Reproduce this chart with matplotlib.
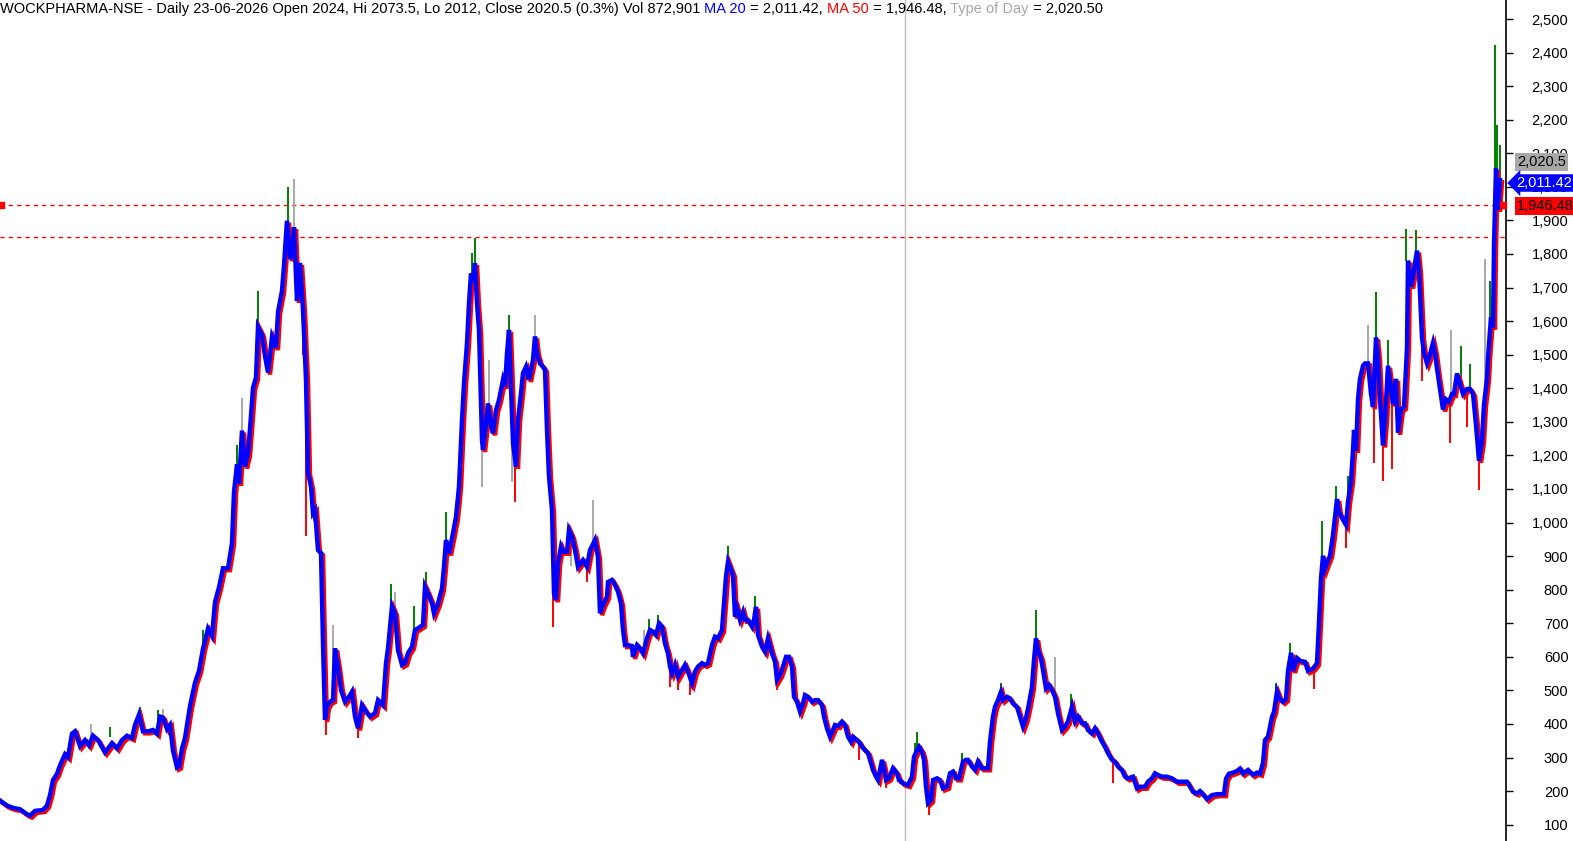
import numpy as np
import matplotlib
matplotlib.use("Agg")
import matplotlib.pyplot as plt
import matplotlib.transforms as mtransforms

plt.rcParams['font.family'] = ['Liberation Sans', 'DejaVu Sans']

# bar index (daily bars, left to right) and close
bar = [0, 7, 13, 20, 27, 30, 35, 43, 47, 50, 53, 57, 60, 65, 68, 72, 75, 80, 85, 89,
       93, 98, 105, 112, 117, 122, 127, 132, 135, 139, 143, 148, 153, 157, 160, 163, 167, 170, 173, 177,
       179, 182, 185, 190, 195, 199, 203, 208, 212, 215, 219, 223, 228, 232, 234, 237, 239, 242, 245, 248,
       251, 253, 256, 258, 262, 265, 268, 272, 276, 278, 282, 284, 287, 290, 292, 294, 297, 299,
       300, 303, 306, 308, 311, 313, 315, 318, 321, 323, 325, 327, 330, 333, 335, 338, 341, 345, 349, 352,
       355, 358, 362, 366, 370, 375, 378, 383, 386, 388, 392, 395, 398, 402, 405, 408, 412, 415, 418, 423,
       425, 428, 432, 434, 438, 442, 444, 446, 449, 453, 456, 459, 462, 464, 467, 469, 471, 473, 475, 477,
       479, 482, 483, 486, 488, 491, 493, 496, 499, 503, 505, 507, 509, 512, 513, 516, 518, 521, 523, 526,
       529, 533, 535, 537, 540, 543, 545, 547, 549, 552, 554, 556, 558, 561, 563, 567, 569, 572, 575, 578,
       583, 587, 590, 595, 598,
       600, 603, 607, 608, 612, 615, 618, 621, 623, 625, 628, 632, 633, 637, 640, 643, 647, 650, 653, 656,
       659, 662, 665, 668, 670, 672, 675, 678, 682, 685, 688, 692, 695, 698, 702, 705, 708, 712, 715, 718,
       722, 724, 726, 728, 731, 733, 735, 737, 740, 743, 745, 748, 752, 754, 756, 758, 762, 765, 768, 772,
       775, 777, 780, 783, 786, 789, 792, 794, 797, 800, 803, 805, 808, 812, 815, 818, 822, 824, 827, 830,
       833, 835, 838, 842, 845, 848, 851, 853, 857, 859, 862, 865, 868, 871, 873, 876, 878, 882, 884, 886,
       889, 893, 897, 899,
       900, 903, 908, 912, 914, 917, 919, 922, 924, 926, 928, 931, 933, 937, 940, 943, 947, 950, 953, 956,
       959, 963, 966, 968, 972, 975, 978, 982, 985, 988, 990, 993, 995, 998, 1001, 1003, 1007, 1010, 1013, 1017,
       1020, 1023, 1026, 1029, 1032, 1034, 1036, 1038, 1041, 1043, 1046, 1049, 1052, 1055, 1058, 1062, 1065, 1068, 1072, 1075,
       1078, 1082, 1085, 1088, 1092, 1095, 1098, 1102, 1105, 1108, 1112, 1115, 1118, 1122, 1125, 1128, 1133, 1137, 1140, 1145,
       1148, 1152, 1155, 1158, 1162, 1167, 1172, 1177, 1182, 1187, 1190, 1193, 1197,
       1200, 1203, 1207, 1212, 1217, 1222, 1224, 1226, 1229, 1233, 1237, 1240, 1243, 1248, 1253, 1257, 1260, 1263, 1265, 1268,
       1272, 1274, 1277, 1280, 1283, 1286, 1288, 1291, 1293, 1297, 1300, 1305, 1308, 1313, 1317, 1319, 1321, 1323, 1325, 1327,
       1330, 1333, 1335, 1337, 1339, 1343, 1346, 1348, 1351, 1353, 1354, 1356, 1358, 1360, 1363, 1365, 1368, 1371, 1373, 1376,
       1378, 1380, 1383, 1385, 1388, 1391, 1393, 1396, 1398, 1401, 1404, 1407, 1408, 1411, 1413, 1417, 1419, 1422, 1424, 1427,
       1429, 1433, 1435, 1437, 1440, 1443, 1446, 1449, 1452, 1454, 1457, 1460, 1463, 1467, 1470, 1473, 1476, 1479, 1482, 1484,
       1487, 1488, 1491, 1493, 1494, 1496, 1498, 1500]

close = [172, 157, 150, 146, 131, 127, 141, 144, 157, 188, 233, 251, 277, 310, 301, 371, 378, 334, 352, 336,
         365, 352, 315, 343, 327, 352, 365, 358, 397, 428, 378, 378, 382, 371, 422, 419, 385, 397, 321, 270,
         273, 327, 358, 453, 523, 558, 624, 684, 662, 763, 807, 864, 864, 939, 1091, 1173, 1116, 1274, 1167, 1204,
         1318, 1401, 1432, 1583, 1559, 1496, 1447, 1553, 1520, 1627, 1690, 1766, 1899, 1785, 1804, 1880, 1660, 1760,
         1773, 1633, 1425, 1148, 1107, 1028, 1037, 918, 909, 641, 412, 451, 466, 471, 625, 571, 501, 466, 481, 496,
         422, 387, 456, 437, 422, 432, 471, 456, 581, 625, 750, 729, 620, 576, 581, 611, 630, 680, 685, 695,
         809, 789, 759, 729, 759, 804, 868, 948, 908, 968, 1017, 1107, 1305, 1415, 1534, 1653, 1742, 1717, 1772, 1653,
         1574, 1246, 1216, 1296, 1355, 1286, 1266, 1335, 1365, 1425, 1405, 1504, 1574, 1315, 1236, 1166, 1305, 1385, 1445, 1464,
         1425, 1484, 1554, 1504, 1474, 1464, 1454, 1276, 1137, 1037, 789, 769, 878, 928, 913, 913, 978, 958, 918, 868,
         888, 868, 918, 948, 898,
         730, 754, 779, 823, 829, 814, 794, 759, 680, 635, 635, 632, 600, 635, 625, 610, 655, 680, 675, 665,
         700, 690, 640, 610, 571, 551, 576, 541, 561, 576, 556, 521, 556, 571, 581, 576, 581, 635, 660, 655,
         680, 759, 839, 883, 859, 844, 720, 744, 710, 734, 710, 710, 690, 710, 749, 665, 630, 615, 655, 610,
         586, 531, 546, 571, 600, 600, 571, 481, 466, 437, 461, 486, 481, 466, 471, 471, 456, 422, 387, 362,
         382, 397, 394, 407, 397, 362, 347, 362, 352, 347, 332, 322, 313, 283, 263, 243, 233, 293, 268, 233,
         238, 268, 253, 233,
         233, 223, 218, 243, 302, 322, 332, 317, 293, 213, 164, 173, 233, 238, 233, 208, 213, 253, 258, 238,
         238, 288, 293, 293, 273, 263, 288, 268, 268, 268, 347, 422, 451, 471, 496, 471, 481, 476, 461, 451,
         422, 392, 417, 461, 511, 590, 655, 620, 595, 561, 506, 516, 501, 481, 432, 382, 392, 407, 451, 407,
         422, 402, 402, 382, 372, 387, 372, 347, 332, 313, 293, 288, 273, 263, 243, 238, 243, 208, 213, 213,
         228, 238, 253, 248, 243, 243, 238, 228, 228, 228, 213, 198, 193,
         200, 191, 176, 188, 191, 191, 191, 237, 252, 255, 260, 267, 252, 263, 248, 255, 252, 284, 352, 362,
         421, 436, 497, 474, 466, 474, 558, 612, 558, 596, 588, 585, 558, 565, 581, 703, 833, 901, 863, 879,
         901, 963, 1016, 1070, 1031, 1008, 993, 1062, 1123, 1214, 1276, 1214, 1367, 1428, 1467, 1474, 1474, 1383, 1344, 1551,
         1490, 1367, 1230, 1306, 1467, 1398, 1352, 1428, 1268, 1337, 1344, 1520, 1780, 1703, 1734, 1810, 1749, 1551, 1505, 1474,
         1490, 1535, 1505, 1459, 1398, 1337, 1367, 1360, 1383, 1383, 1444, 1413, 1383, 1398, 1398, 1383, 1291, 1184, 1245, 1352,
         1428, 1490, 1612, 1581, 1826, 2055, 1932, 2020]

# wicks: bar, start, end, colour
wick_bar = [288, 294, 258, 242, 237, 203, 110, 140, 158, 163, 91,
            475, 472, 509, 535, 333, 391, 395, 414, 426, 446, 489, 593,
            728, 755, 658, 649, 644, 1036, 1055, 917, 915, 962, 1001, 1071,
            1495, 1497, 1500, 1406, 1416, 1376, 1368, 1388, 1451, 1461, 1470, 1485, 1490,
            1322, 1336, 1348, 1357, 1290, 1276,
            303, 306, 326, 358, 482, 515, 512, 553, 571, 587, 670, 678, 690, 777,
            859, 879, 886, 929, 1113, 1383, 1374, 1392, 1479, 1450, 1467, 1422, 1346, 1314]
wick_a = [1880, 1850, 1560, 1250, 1150, 610, 360, 400, 380, 410, 340,
          1760, 1720, 1560, 1540, 560, 730, 720, 670, 790, 940, 1330, 900,
          880, 740, 690, 670, 630, 650, 480, 320, 300, 290, 490, 440,
          2050, 2000, 2000, 1780, 1800, 1550, 1470, 1460, 1380, 1430, 1390, 1350, 1610,
          900, 1070, 1062, 1214, 600, 497,
          1700, 1400, 412, 400, 1250, 1166, 1300, 800, 950, 870, 571, 541, 521, 531,
          347, 233, 233, 173, 293, 1230, 1344, 1352, 1184, 1360, 1398, 1551, 993, 565]
wick_b = [2000, 2023, 1690, 1372, 1231, 680, 391, 450, 441, 445, 400,
          1848, 1803, 1618, 1618, 695, 817, 793, 751, 853, 1031, 1484, 1067,
          930, 781, 725, 712, 680, 740, 600, 376, 343, 313, 522, 489,
          2422, 2184, 2124, 1874, 1871, 1688, 1588, 1544, 1574, 1526, 1472, 1785, 1720,
          1004, 1109, 1139, 1344, 641, 522,
          1500, 960, 367, 358, 1107, 1061, 1121, 689, 870, 823, 510, 500, 486, 501,
          293, 218, 209, 129, 224, 1124, 1177, 1161, 1097, 1237, 1284, 1422, 924, 504]
wick_color = (['green', 'gray', 'green', 'gray', 'green', 'green', 'green', 'green', 'green', 'gray', 'gray',
               'green', 'green', 'green', 'gray', 'gray', 'green', 'gray', 'green', 'green', 'green', 'gray', 'gray',
               'green', 'green', 'green', 'green', 'gray', 'green', 'gray', 'green', 'green', 'green', 'green', 'green',
               'green', 'green', 'green', 'green', 'green', 'green', 'gray', 'green', 'gray', 'green', 'green', 'gray', 'green',
               'green', 'green', 'green', 'green', 'green', 'green',
               'red', 'red', 'red', 'red', 'gray', 'red', 'gray', 'red', 'gray', 'red', 'red', 'red', 'red', 'red',
               'red', 'red', 'red', 'red', 'red', 'red', 'red', 'red', 'red', 'red', 'red', 'red', 'red', 'red'])

last_close = 2020.5
ma20 = 2011.42
ma50 = 1946.48
resistance = 1850
cursor_bar = 905
yticks = list(range(100, 2600, 100))

fig = plt.figure(figsize=(15.73, 8.41), dpi=100)
ax = fig.add_axes([0, 0, 1506 / 1573, 1])
ax.set_xlim(0, 1506)
ax.set_ylim(51.4, 2556.6)

colmap = {'green': '#008000', 'gray': '#a8a8a8', 'red': '#ff0000'}
ax.vlines(wick_bar, wick_a, wick_b, colors=[colmap[c] for c in wick_color], lw=1.4, zorder=1)

# red trail peeks out below/right of the blue line
shift = mtransforms.offset_copy(ax.transData, fig=fig, x=2, y=-2, units='dots')
ax.plot(bar, close, color='#ff0000', lw=3.2, transform=shift, zorder=2, solid_joinstyle='miter')
ax.plot(bar, close, color='#0000ff', lw=3.2, zorder=3, solid_joinstyle='miter')

ax.axvline(cursor_bar, color='#c0c0c0', lw=1, zorder=0)
ax.axhline(ma50, color='#ff0000', lw=1, ls=(0, (3, 3)), zorder=0)
ax.axhline(resistance, color='#ff0000', lw=1, ls=(0, (3, 3)), zorder=0)
ax.plot([1], [ma50], 's', color='#ff0000', ms=4, clip_on=False)
ax.plot([1503], [ma50], 's', color='#ff0000', ms=4, clip_on=False, zorder=4)

for s in ['left', 'top', 'bottom']:
    ax.spines[s].set_visible(False)
ax.spines['right'].set_linewidth(1.2)
ax.set_xticks([])
ax.yaxis.tick_right()
ax.set_yticks(yticks)
ax.set_yticklabels([f"{v:,}" for v in yticks])
ax.tick_params(axis='y', length=5, width=1, pad=40, labelsize=10.5)
for lab in ax.get_yticklabels():
    lab.set_horizontalalignment('right')

# value tags on the axis
ax.annotate(f"{last_close:,.1f}", xy=(1.0, last_close), xycoords=('axes fraction', 'data'),
            xytext=(8, 13), textcoords='offset points', ha='left', va='center',
            fontsize=10.5, color='black', annotation_clip=False,
            bbox=dict(boxstyle='square,pad=0.12', fc='#a8a8a8', ec='none'))
ax.annotate(f"{ma20:,.2f}", xy=(1.0, ma20), xycoords=('axes fraction', 'data'),
            xytext=(7.5, 0), textcoords='offset points', ha='left', va='center',
            fontsize=10.5, color='white', annotation_clip=False,
            bbox=dict(boxstyle='larrow,pad=0.12', fc='#0000ff', ec='none'))
ax.annotate(f"{ma50:,.2f}", xy=(1.0, ma50), xycoords=('axes fraction', 'data'),
            xytext=(8, -1), textcoords='offset points', ha='left', va='center',
            fontsize=10.5, color='black', annotation_clip=False,
            bbox=dict(boxstyle='square,pad=0.12', fc='#ff0000', ec='none'))

# title line in several colours
parts = [("WOCKPHARMA-NSE - Daily 23-06-2026 Open 2024, Hi 2073.5, Lo 2012, Close 2020.5 (0.3%) Vol 872,901 ", 'black'),
         ("MA 20", '#0000ff'), (" = 2,011.42, ", 'black'),
         ("MA 50", '#ff0000'), (" = 1,946.48, ", 'black'),
         ("Type of Day", '#a8a8a8'), (" = 2,020.50", 'black')]
prev = ax.text(0.0, 1 - 9 / 841, parts[0][0], transform=ax.transAxes, color=parts[0][1],
               fontsize=10.5, va='center', ha='left')
for txt, col in parts[1:]:
    prev = ax.annotate(txt, xy=(1, 0.5), xycoords=prev, va='center', ha='left',
                       color=col, fontsize=10.5)

fig.savefig("out.png", dpi=100)
